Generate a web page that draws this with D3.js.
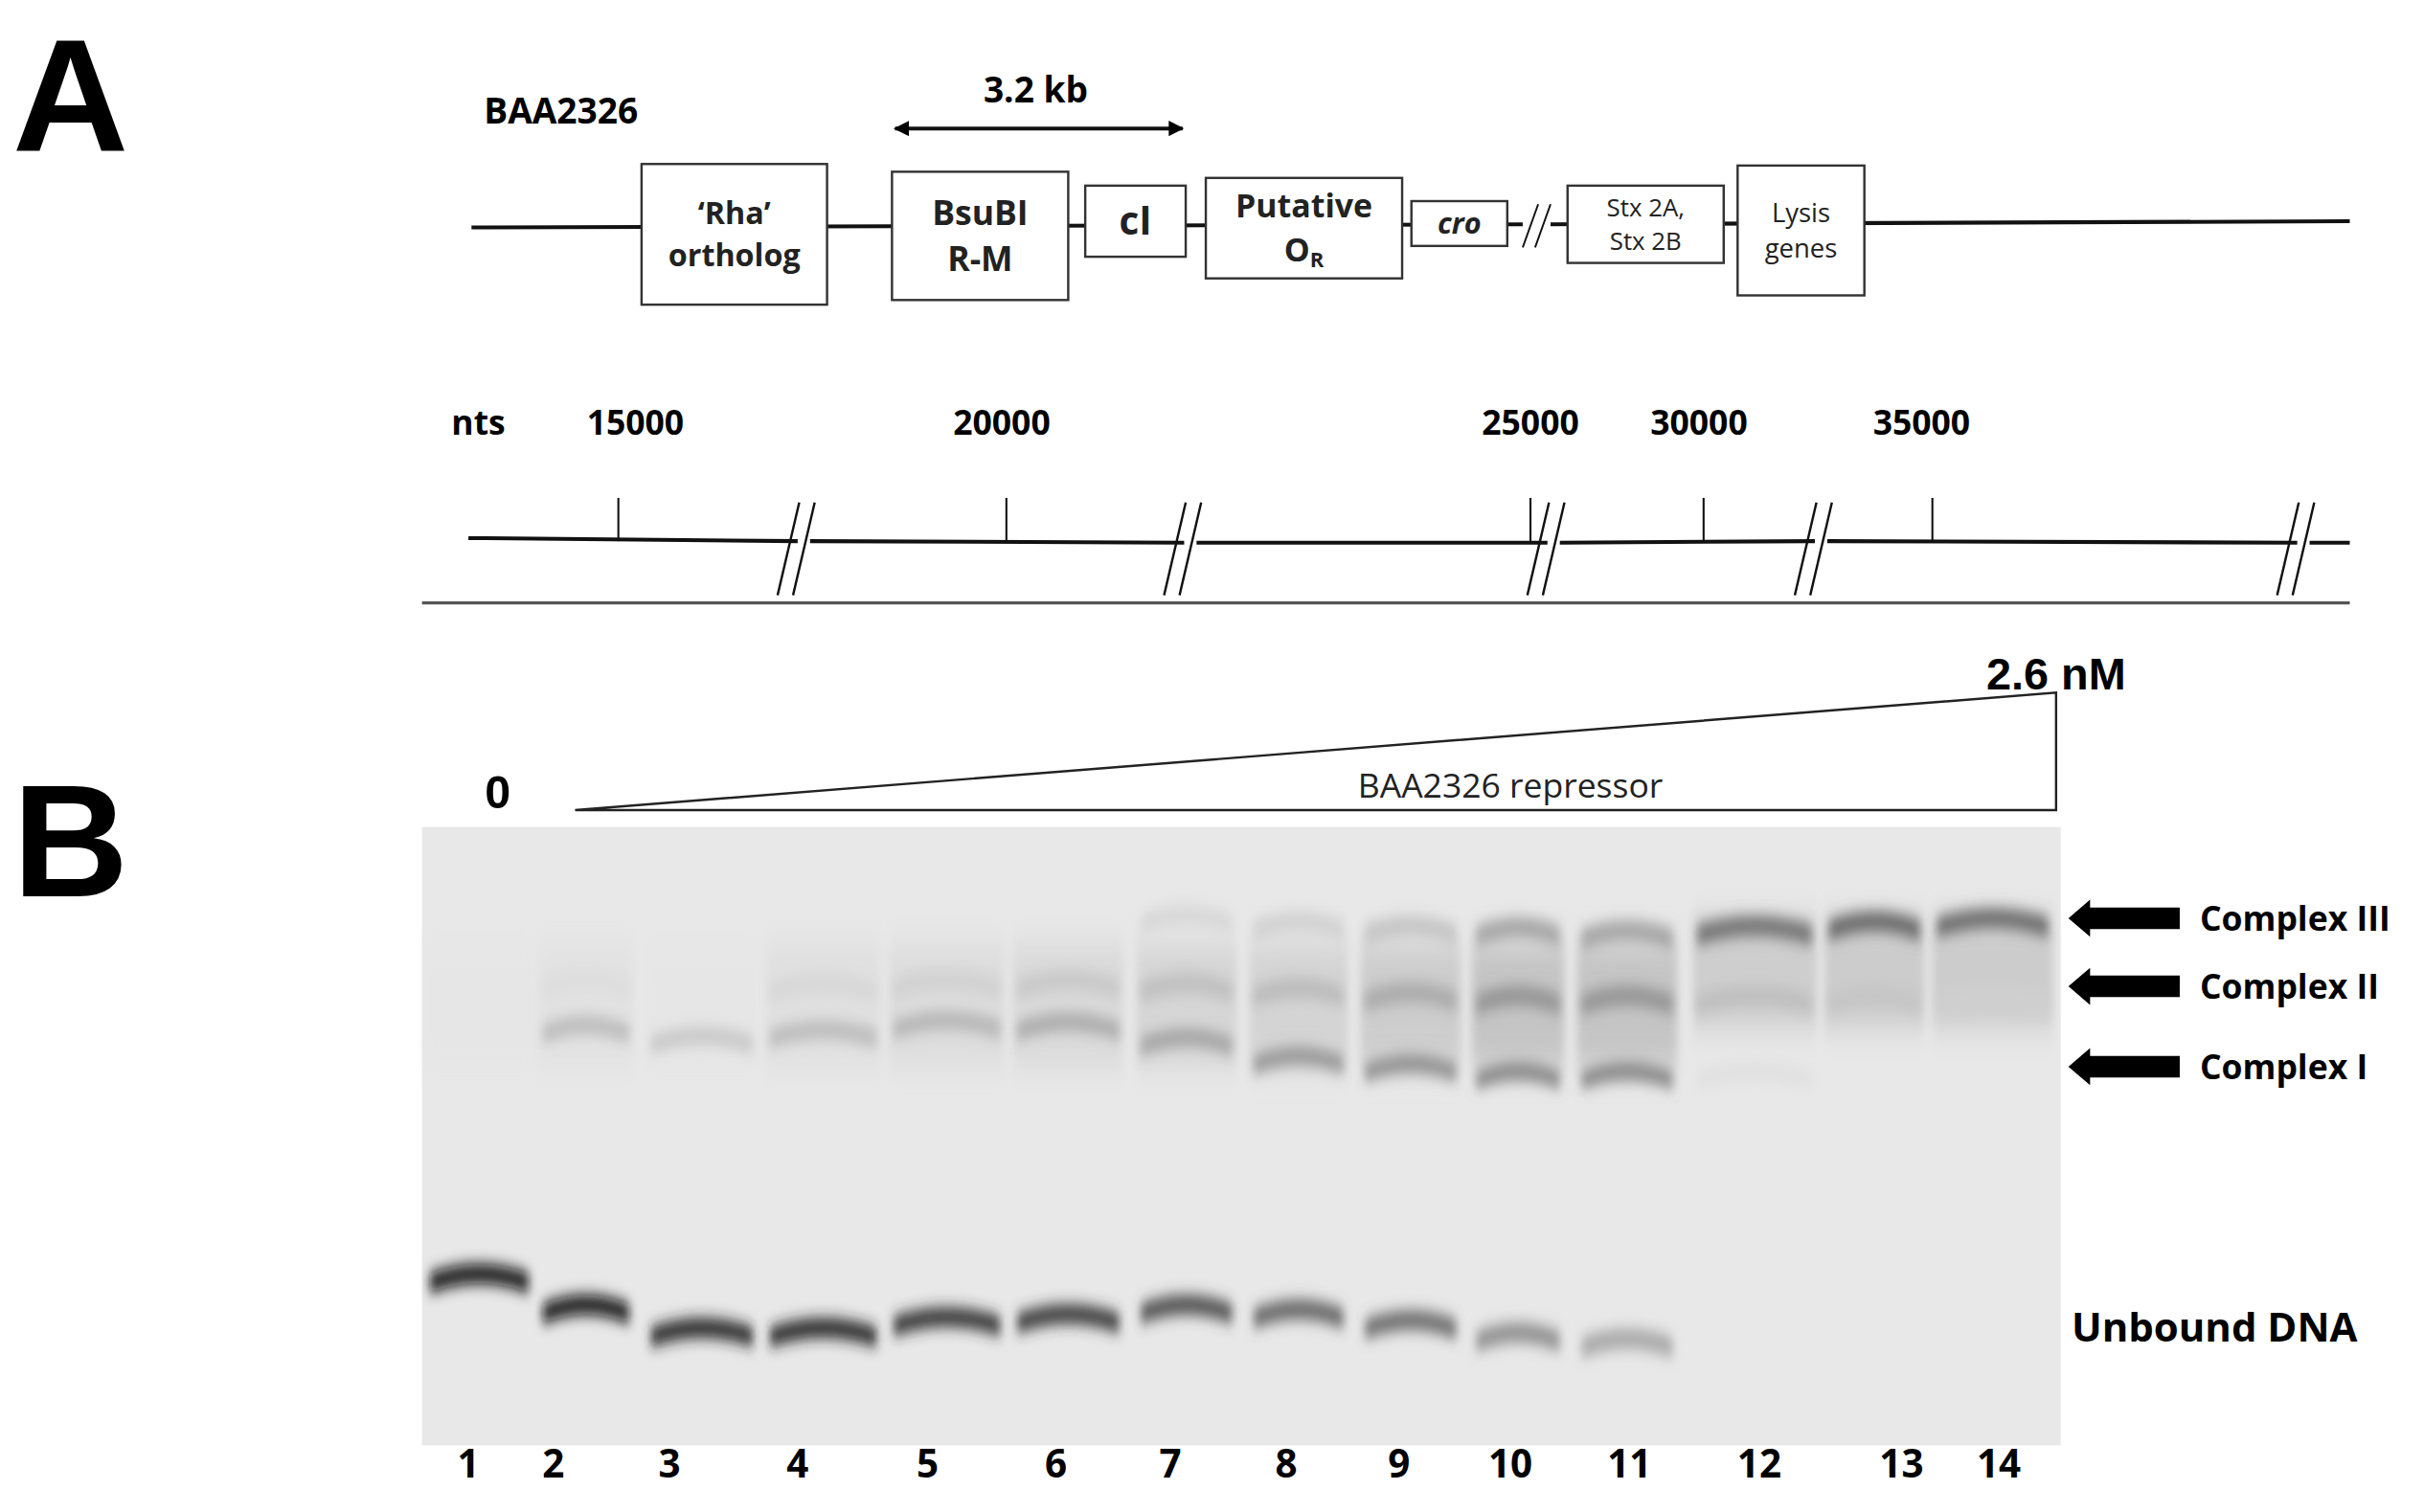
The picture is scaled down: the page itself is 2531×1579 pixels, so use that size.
<!DOCTYPE html>
<html><head><meta charset="utf-8">
<script src="https://cdn.jsdelivr.net/npm/d3@7"></script>
<style>body{margin:0;background:#fff}svg{display:block}</style>
</head><body>
<svg id="chart"></svg>
<script>
// panel A: genes (name lines, left, right, top, bottom in map units)
const genes = [
  {lines: ["\u2018Rha\u2019", "ortholog"], x0: 415, x1: 535, y0: 106, y1: 197, size: 20, bold: true},
  {lines: ["BsuBI", "R-M"], x0: 577, x1: 691, y0: 111, y1: 194, size: 22, bold: true},
  {lines: ["cI"], x0: 702, x1: 767, y0: 120, y1: 166, size: 25, bold: true},
  {lines: ["Putative", "O"], x0: 780, x1: 907, y0: 115, y1: 180, size: 21, bold: true, sub: "R"},
  {lines: ["cro"], x0: 913, x1: 975, y0: 130, y1: 159, size: 19, bold: true, italic: true},
  {lines: ["Stx 2A,", "Stx 2B"], x0: 1014, x1: 1115, y0: 120, y1: 170, size: 16, bold: false},
  {lines: ["Lysis", "genes"], x0: 1124, x1: 1206, y0: 107, y1: 191, size: 17, bold: false}
];
const ntLabels = ["15000", "20000", "25000", "30000", "35000"];
const ntLabelX = [411, 648, 990, 1099, 1243];
const ntTickX = [400, 651, 990, 1102, 1250];
const breakX = [520, 770, 1005, 1178, 1490];

// panel B: gel
const lanes = ["1","2","3","4","5","6","7","8","9","10","11","12","13","14"];
const laneLabelX = [303, 358, 433, 516, 600, 683, 757, 832, 905, 977, 1054, 1138, 1230, 1293];
const laneX0 = [275, 348, 418, 495, 575, 655, 735, 808, 880, 952, 1020, 1095, 1180, 1250];
const laneX1 = [345, 410, 490, 570, 650, 727, 800, 872, 945, 1012, 1085, 1175, 1245, 1328];
const unboundY = [820, 840, 855, 855, 848, 846, 840, 843, 850, 858, 862, 0, 0, 0];
const unboundI = [1.0, 0.98, 0.9, 0.88, 0.84, 0.8, 0.72, 0.62, 0.58, 0.42, 0.3, 0, 0, 0];
const c1Y = [0, 660, 667, 663, 657, 658, 668, 680, 685, 690, 690, 690, 690, 690];
const c1I = [0, 0.22, 0.15, 0.22, 0.25, 0.3, 0.33, 0.4, 0.44, 0.48, 0.48, 0.03, 0, 0];
const c2Y = [0, 630, 630, 632, 630, 630, 632, 635, 638, 640, 640, 640, 640, 640];
const c2I = [0, 0.04, 0, 0.07, 0.1, 0.14, 0.18, 0.2, 0.28, 0.38, 0.38, 0.18, 0.15, 0.1];
const c3Y = [0, 0, 0, 0, 0, 0, 588, 592, 595, 596, 598, 595, 592, 590];
const c3I = [0, 0, 0, 0, 0, 0, 0.07, 0.1, 0.16, 0.32, 0.32, 0.55, 0.6, 0.58];
const complexes = ["Complex III", "Complex II", "Complex I"];
const complexY = [594, 638, 690];

const W = 1568, H = 978;
const svg = d3.select("#chart")
  .attr("width", 2531).attr("height", 1579)
  .attr("viewBox", `0 0 ${W} ${H}`);
const font = "'Liberation Sans Narrow', 'Open Sans', sans-serif";
const ink = d3.scaleLinear().domain([0, 1]).range(["#e6e6e6", "#0a0a0a"]);

const defs = svg.append("defs");
defs.append("filter").attr("id", "blur").attr("x", "-20%").attr("y", "-100%").attr("width", "140%").attr("height", "300%")
  .append("feGaussianBlur").attr("stdDeviation", "3 5");
defs.append("filter").attr("id", "blur2").attr("x", "-20%").attr("y", "-100%").attr("width", "140%").attr("height", "300%")
  .append("feGaussianBlur").attr("stdDeviation", "3 10");

// ---- panel A ----
svg.append("text").attr("x", 8).attr("y", 97).text("A")
  .attr("font-family", "'Liberation Sans', Arial").attr("font-weight", 700).attr("font-size", 104);
svg.append("text").attr("x", 313).attr("y", 80).text("BAA2326")
  .attr("font-family", font).attr("font-weight", 700).attr("font-size", 23);
svg.append("text").attr("x", 670).attr("y", 66).attr("text-anchor", "middle").text("3.2 kb")
  .attr("font-family", font).attr("font-weight", 700).attr("font-size", 23);
defs.append("marker").attr("id", "ah").attr("viewBox", "0 0 10 10").attr("refX", 9).attr("refY", 5)
  .attr("markerWidth", 4).attr("markerHeight", 4).attr("orient", "auto-start-reverse")
  .append("path").attr("d", "M0,0L10,5L0,10z");
svg.append("line").attr("x1", 579).attr("x2", 765).attr("y1", 83).attr("y2", 83)
  .attr("stroke", "#111").attr("stroke-width", 2.5)
  .attr("marker-start", "url(#ah)").attr("marker-end", "url(#ah)");

// backbone
svg.append("line").attr("x1", 305).attr("x2", 985).attr("y1", 147).attr("y2", 145).attr("stroke", "#111").attr("stroke-width", 2.5);
svg.append("line").attr("x1", 1003).attr("x2", 1520).attr("y1", 145).attr("y2", 143).attr("stroke", "#111").attr("stroke-width", 2.5);
svg.append("path").attr("d", "M985,160L995,132M993,160L1003,132").attr("stroke", "#111").attr("stroke-width", 1.2).attr("fill", "none");

const g = svg.append("g").selectAll("g").data(genes).join("g");
g.append("rect").attr("x", d => d.x0).attr("y", d => d.y0)
  .attr("width", d => d.x1 - d.x0).attr("height", d => d.y1 - d.y0)
  .attr("fill", "#fff").attr("stroke", "#333").attr("stroke-width", 1.5);
g.each(function(d) {
  const n = d.lines.length, cx = (d.x0 + d.x1) / 2, cy = (d.y0 + d.y1) / 2;
  const gap = Math.min(d.size * 1.35, (d.y1 - d.y0 - 6) / n);
  d.lines.forEach((l, i) => {
    const t = d3.select(this).append("text").attr("x", cx)
      .attr("y", cy + (i - (n - 1) / 2) * gap + d.size * 0.35)
      .attr("text-anchor", "middle").attr("font-family", font)
      .attr("font-size", d.size).attr("font-weight", d.bold ? 700 : 400)
      .attr("font-style", d.italic ? "italic" : "normal").attr("fill", "#222").text(l);
    if (d.sub && i === n - 1) t.append("tspan").attr("font-size", d.size * 0.65).attr("dy", 4).text(d.sub);
  });
});

// nucleotide scale
svg.append("text").attr("x", 292).attr("y", 281).text("nts")
  .attr("font-family", font).attr("font-weight", 700).attr("font-size", 22);
svg.append("g").selectAll("text").data(ntLabels).join("text")
  .attr("x", (d, i) => ntLabelX[i]).attr("y", 281).attr("text-anchor", "middle").text(d => d)
  .attr("font-family", font).attr("font-weight", 700).attr("font-size", 22);
const segs = [303].concat(breakX).concat([1520]);
const segY = [348, 350, 351, 351, 350, 351, 351];
for (let i = 0; i < segs.length - 1; i++) {
  const a = i === 0 ? segs[i] : segs[i] + 4, b = i === segs.length - 2 ? segs[i + 1] : segs[i + 1] - 4;
  svg.append("line").attr("x1", a).attr("x2", b).attr("y1", segY[i]).attr("y2", segY[i + 1])
    .attr("stroke", "#111").attr("stroke-width", 2.5);
}
svg.append("g").selectAll("line").data(ntTickX).join("line")
  .attr("x1", d => d).attr("x2", d => d).attr("y1", 322).attr("y2", 350)
  .attr("stroke", "#111").attr("stroke-width", 1.3);
svg.append("g").selectAll("path").data(breakX).join("path")
  .attr("d", d => `M${d - 17},385L${d - 3},325M${d - 7},385L${d + 7},325`)
  .attr("stroke", "#111").attr("stroke-width", 1.5).attr("fill", "none");
svg.append("line").attr("x1", 273).attr("x2", 1520).attr("y1", 390).attr("y2", 390)
  .attr("stroke", "#555").attr("stroke-width", 2);

// ---- panel B ----
svg.append("text").attr("x", 8).attr("y", 580).text("B")
  .attr("font-family", "'Liberation Sans', Arial").attr("font-weight", 700).attr("font-size", 104);
svg.append("path").attr("d", "M372,524L1330,448L1330,524Z").attr("fill", "#fff").attr("stroke", "#222").attr("stroke-width", 1.5);
svg.append("text").attr("x", 977).attr("y", 516).attr("text-anchor", "middle").text("BAA2326 repressor")
  .attr("font-family", "'Open Sans', sans-serif").attr("font-size", 22).attr("fill", "#222");
svg.append("text").attr("x", 322).attr("y", 523).attr("text-anchor", "middle").text("0")
  .attr("font-family", "'Liberation Sans', Arial").attr("font-weight", 700).attr("font-size", 30);
svg.append("text").attr("x", 1330).attr("y", 446).attr("text-anchor", "middle").text("2.6 nM")
  .attr("font-family", "'Liberation Sans', Arial").attr("font-weight", 700).attr("font-size", 29);

// gel background
svg.append("rect").attr("x", 273).attr("y", 535).attr("width", 1060).attr("height", 400).attr("fill", "#e8e8e8");
// lane smears and gaps
const gel = svg.append("g");
gel.selectAll("rect.smear").data(lanes).join("rect").attr("class", "smear")
  .attr("x", (d, i) => laneX0[i]).attr("width", (d, i) => laneX1[i] - laneX0[i])
  .attr("y", (d, i) => (c3I[i] > 0.5 ? 595 : 610)).attr("height", (d, i) => (c3I[i] > 0.5 ? 70 : 80))
  .attr("fill", (d, i) => ink(Math.max(c2I[i], c3I[i] * 0.5) * 0.4)).attr("filter", "url(#blur2)");
function bands(Y, I, h) {
  gel.append("g").selectAll("path").data(lanes.filter((d, i) => I[i] > 0)).join("path")
    .attr("d", d => {
      const i = +d - 1, x0 = laneX0[i] + 3, x1 = laneX1[i] - 3, y = Y[i], m = (x0 + x1) / 2;
      return `M${x0},${y + 4}Q${m},${y - 8} ${x1},${y + 4}L${x1},${y + 4 + h}Q${m},${y - 8 + h} ${x0},${y + 4 + h}Z`;
    })
    .attr("fill", d => ink(I[+d - 1])).attr("filter", "url(#blur)");
}
bands(unboundY, unboundI, 12);
bands(c1Y, c1I, 10);
bands(c2Y, c2I, 12);
bands(c3Y, c3I, 12);
gel.append("g").selectAll("line").data(laneX0.slice(1)).join("line")
  .attr("x1", d => d - 2).attr("x2", d => d - 2).attr("y1", 540).attr("y2", 930)
  .attr("stroke", "#f4f4f4").attr("stroke-width", 3).attr("filter", "url(#blur)");

// lane numbers
svg.append("g").selectAll("text").data(lanes).join("text")
  .attr("x", (d, i) => laneLabelX[i]).attr("y", 956).attr("text-anchor", "middle").text(d => d)
  .attr("font-family", font).attr("font-weight", 700).attr("font-size", 25);

// complex arrows
const ar = svg.append("g").selectAll("g").data(complexes).join("g")
  .attr("transform", (d, i) => `translate(0,${complexY[i]})`);
ar.append("path").attr("d", "M1338,0L1352,-12L1352,-7L1410,-7L1410,7L1352,7L1352,12Z").attr("fill", "#000");
ar.append("text").attr("x", 1423).attr("y", 8).text(d => d)
  .attr("font-family", font).attr("font-weight", 700).attr("font-size", 22);
svg.append("text").attr("x", 1340).attr("y", 868).text("Unbound DNA")
  .attr("font-family", font).attr("font-weight", 700).attr("font-size", 26);
</script>
</body></html>
